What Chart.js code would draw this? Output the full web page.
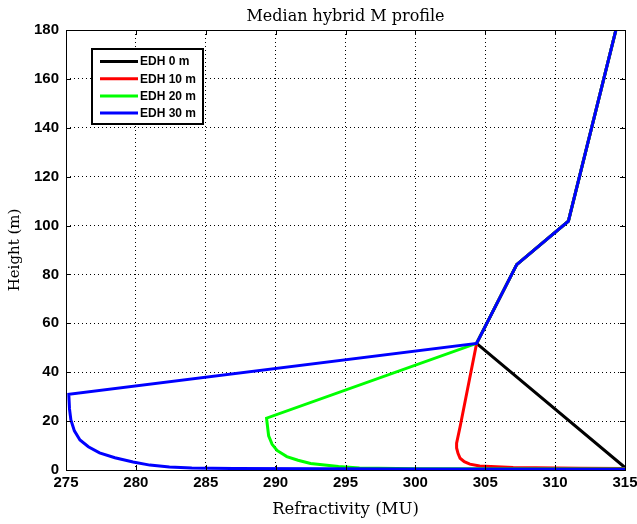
<!DOCTYPE html>
<html>
<head>
<meta charset="utf-8">
<script src="https://cdn.jsdelivr.net/npm/chart.js@4/dist/chart.umd.min.js"></script>
<style>
  html, body { margin: 0; padding: 0; background: #fff; }
  #wrap { width: 637px; height: 524px; }
</style>
</head>
<body>
<div id="wrap"><canvas id="chart" width="637" height="524"></canvas></div>
<script>
// refractivity (MU) / height (m)
const chartTitle = 'Median hybrid M profile';
const labels = ['EDH 0 m', 'EDH 10 m', 'EDH 20 m', 'EDH 30 m'];
const colors = ['#000000', '#ff0000', '#00ff00', '#0000ff'];

const edh0M = [315, 304.38, 307.25, 310.95, 314.35];
const edh0H = [1.0, 51.8, 84, 101.8, 180];

const edh10M = [315, 311.8, 307, 304.6, 303.9, 303.5, 303.2, 303.05, 302.95, 302.95, 303.2, 304.38, 307.25, 310.95, 314.35];
const edh10H = [0.6, 0.7, 1.0, 1.6, 2.4, 3.4, 4.8, 6.8, 9, 11, 17.7, 51.8, 84, 101.8, 180];

const edh20M = [315, 300, 296, 294.5, 292.5, 291.6, 290.8, 290.1, 289.75, 289.5, 289.35, 304.38, 307.25, 310.95, 314.35];
const edh20H = [0.4, 0.5, 0.8, 1.4, 2.7, 4, 5.5, 8, 10.5, 14, 21.2, 51.8, 84, 101.8, 180];

const edh30M = [315, 300, 287, 284, 282.4, 281, 279.8, 278.5, 277.4, 276.6, 276, 275.6, 275.35, 275.25, 275.2, 304.38, 307.25, 310.95, 314.35];
const edh30H = [0.3, 0.4, 0.6, 0.8, 1.2, 2, 3.3, 5, 7, 9.5, 12.3, 16, 20.5, 25, 31, 51.8, 84, 101.8, 180];

const xTicks = [275, 280, 285, 290, 295, 300, 305, 310, 315];
const yTicks = [0, 20, 40, 60, 80, 100, 120, 140, 160, 180];

const seriesM = [edh0M, edh10M, edh20M, edh30M];
const seriesH = [edh0H, edh10H, edh20H, edh30H];

const toPoints = (m, h) => m.map((v, i) => ({ x: v, y: h[i] }));

const serif = '"DejaVu Serif", serif';
const sans = '"Liberation Sans", Arial, sans-serif';

// box, inward ticks, title over the plot and the legend inside it
const framePlugin = {
  id: 'frame',
  afterDatasetsDraw(chart) {
    const { ctx, chartArea: a, scales } = chart;
    ctx.save();
    ctx.strokeStyle = '#000';
    ctx.lineWidth = 1;
    ctx.beginPath();
    xTicks.forEach((t) => {
      const px = Math.round(scales.x.getPixelForValue(t)) + 0.5;
      ctx.moveTo(px, a.bottom); ctx.lineTo(px, a.bottom - 5);
      ctx.moveTo(px, a.top); ctx.lineTo(px, a.top + 5);
    });
    yTicks.forEach((t) => {
      const py = Math.round(scales.y.getPixelForValue(t)) + 0.5;
      ctx.moveTo(a.left, py); ctx.lineTo(a.left + 5, py);
      ctx.moveTo(a.right, py); ctx.lineTo(a.right - 5, py);
    });
    ctx.stroke();
    ctx.strokeRect(Math.round(a.left) + 0.5, Math.round(a.top) + 0.5, Math.round(a.right - a.left), Math.round(a.bottom - a.top));

    // title
    ctx.fillStyle = '#000';
    ctx.font = '16px ' + serif;
    ctx.textAlign = 'center';
    ctx.textBaseline = 'alphabetic';
    ctx.fillText(chartTitle, (a.left + a.right) / 2, a.top - 9);

    // legend
    const lx = a.left + 26, ly = a.top + 19, lw = 111, lh = 75;
    ctx.fillStyle = '#fff';
    ctx.fillRect(lx, ly, lw, lh);
    ctx.lineWidth = 2;
    ctx.strokeRect(lx, ly, lw, lh);
    ctx.font = 'bold 12px ' + sans;
    ctx.textAlign = 'left';
    ctx.textBaseline = 'middle';
    chart.data.datasets.forEach((ds, i) => {
      const yy = ly + 12.5 + i * 17.2;
      ctx.strokeStyle = ds.borderColor;
      ctx.lineWidth = 3;
      ctx.beginPath();
      ctx.moveTo(lx + 8, yy); ctx.lineTo(lx + 46, yy);
      ctx.stroke();
      ctx.fillStyle = '#000';
      ctx.fillText(ds.label, lx + 48, yy + 0.5);
    });
    ctx.restore();
  }
};

const datasets = labels.map((lab, i) => ({
  label: lab,
  data: toPoints(seriesM[i], seriesH[i]),
  borderColor: colors[i],
  backgroundColor: colors[i],
  borderWidth: 3,
  pointRadius: 0,
  showLine: true,
  tension: 0,
  order: labels.length - i // blue drawn on top
}));

const ctx = document.getElementById('chart').getContext('2d');

new Chart(ctx, {
  type: 'scatter',
  data: { datasets },
  plugins: [framePlugin],
  options: {
    responsive: false,
    animation: false,
    layout: { padding: { left: 0, right: 12, top: 30, bottom: 0 } },
    plugins: {
      legend: { display: false },
      tooltip: { enabled: false },
      title: { display: false }
    },
    scales: {
      x: {
        type: 'linear',
        min: 275,
        max: 315,
        afterBuildTicks: (s) => { s.ticks = xTicks.map((v) => ({ value: v })); },
        afterFit: (s) => { s.height = 54; s.paddingLeft = 0; s.paddingRight = 0; },
        ticks: {
          color: '#000',
          padding: 4,
          font: { family: sans, size: 15, weight: 'bold' }
        },
        grid: { color: '#000', lineWidth: 1, drawTicks: false },
        border: { display: false, dash: [1, 3] },
        title: {
          display: true,
          text: 'Refractivity (MU)',
          color: '#000',
          font: { family: serif, size: 16.5, weight: 'normal' },
          padding: { top: 0, bottom: 4 }
        }
      },
      y: {
        type: 'linear',
        min: 0,
        max: 180,
        afterBuildTicks: (s) => { s.ticks = yTicks.map((v) => ({ value: v })); },
        afterFit: (s) => { s.width = 66; s.paddingTop = 0; s.paddingBottom = 0; },
        ticks: {
          color: '#000',
          padding: 7,
          font: { family: sans, size: 15, weight: 'bold' }
        },
        grid: { color: '#000', lineWidth: 1, drawTicks: false },
        border: { display: false, dash: [1, 3] },
        title: {
          display: true,
          text: 'Height (m)',
          color: '#000',
          font: { family: serif, size: 15, weight: 'normal' },
          padding: { top: 6, bottom: 0 }
        }
      }
    }
  }
});
</script>
</body>
</html>
